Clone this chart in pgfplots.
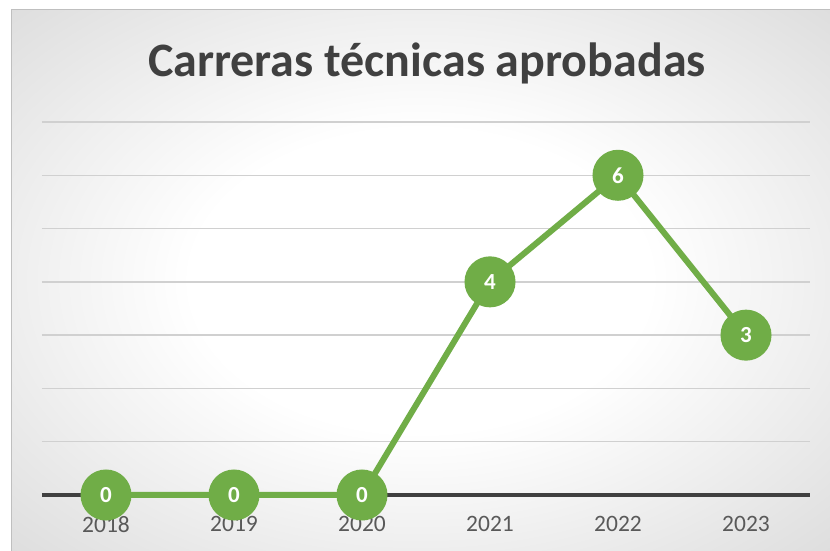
\documentclass[border=0pt]{standalone}
\usepackage{pgfplots}
\pgfplotsset{compat=1.18}
\usepackage{fontspec}
\setmainfont{Carlito}
\definecolor{lgreen}{HTML}{70AD47}
\definecolor{titlegray}{HTML}{404040}
\definecolor{ticklab}{HTML}{595959}
\definecolor{gridc}{HTML}{D0D0D0}
\definecolor{axisc}{HTML}{404040}
\pgfdeclareradialshading{bgshade}{\pgfpoint{0bp}{0bp}}{%
  color(0bp)=(white); color(14bp)=(white); color(52bp)=(black!23); color(75bp)=(black!27)}
\begin{document}
\begin{tikzpicture}[x=1pt,y=1pt]
\useasboundingbox (0,0) rectangle (830,551);
\fill[white] (0,0) rectangle (830,551);
\shade[shading=bgshade] (11,0) rectangle (830,541);
\draw[black!25, line width=1pt] (11,0) -- (11,541) -- (830,541);
\node[font=\fontsize{48}{56}\selectfont\bfseries, text=titlegray] at (427,488) {Carreras técnicas aprobadas};
\begin{axis}[
  at={(42pt,56pt)}, anchor=south west,
  scale only axis, width=768pt, height=373pt,
  xmin=2017.5, xmax=2023.5, ymin=0, ymax=7,
  axis line style={draw=none},
  xtick={2018,2019,2020,2021,2022,2023},
  xticklabels={2018,2019,2020,2021,2022,2023},
  xticklabel style={font=\fontsize{23.5}{28}\selectfont, text=ticklab, yshift=-18pt},
  x tick style={draw=none},
  ytick={1,2,3,4,5,6,7},
  yticklabels={},
  y tick style={draw=none},
  ymajorgrids,
  major grid style={gridc, line width=1.3pt},
  extra y ticks={0},
  extra y tick labels={},
  extra y tick style={grid=major, major grid style={axisc, line width=3.8pt}, y tick style={draw=none}},
  clip=false,
  /pgf/number format/assume math mode=true,
]
\addplot[lgreen, line width=6pt, mark=*, mark size=22.5pt,
  mark options={fill=lgreen, draw=none},
  nodes near coords,
  point meta=y,
  every node near coord/.append style={anchor=center, text=white, font=\fontsize{23}{27}\selectfont\bfseries}]
  coordinates {(2018,0) (2019,0) (2020,0) (2021,4) (2022,6) (2023,3)};
\end{axis}
\end{tikzpicture}
\end{document}
